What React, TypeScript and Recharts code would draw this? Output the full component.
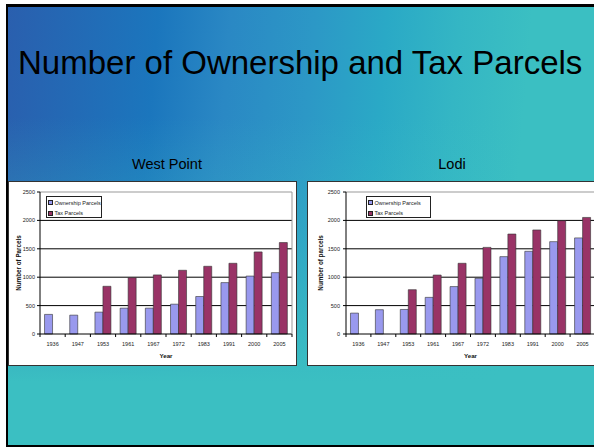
import React from 'react';
import { BarChart, Bar, XAxis, YAxis, CartesianGrid, ReferenceLine, Label } from 'recharts';

const years = ['1936', '1947', '1953', '1961', '1967', '1972', '1983', '1991', '2000', '2005'];
const westPointOwnership = [345, 332, 385, 455, 455, 525, 660, 905, 1020, 1080];
const westPointTax = [null, null, 840, 992, 1040, 1122, 1192, 1245, 1445, 1610];
const lodiOwnership = [368, 428, 432, 645, 835, 980, 1362, 1456, 1626, 1692];
const lodiTax = [null, null, 780, 1038, 1245, 1525, 1760, 1832, 1995, 2052];
const yTicks = [0, 500, 1000, 1500, 2000, 2500];
const gridValues = [500, 1000, 1500, 2000];
const seriesNames = ['Ownership Parcels', 'Tax Parcels'];

const OWN = '#9999ee';
const TAX = '#993366';
const FONT = '"Liberation Sans", Arial, sans-serif';

const buildRows = (own: (number | null)[], tax: (number | null)[]) =>
  years.map((year, i) => ({ year, ownership: own[i], tax: tax[i] }));

const westPointRows = buildRows(westPointOwnership, westPointTax);
const lodiRows = buildRows(lodiOwnership, lodiTax);

const makeTick = (bw: number, plotH: number, count: number) => (props: any) => {
  const { x, y, payload, index } = props;
  const last = index === count - 1;
  return (
    <g>
      <line x1={x - bw / 2} y1={y} x2={x - bw / 2} y2={y + 3} stroke="#000" strokeWidth={1} />
      {last && <line x1={x + bw / 2} y1={y} x2={x + bw / 2} y2={y + 3} stroke="#000" strokeWidth={1} />}
      {last && <line x1={x + bw / 2} y1={y} x2={x + bw / 2} y2={y - plotH} stroke="#999" strokeWidth={1} />}
      <text x={x} y={y + 11.5} textAnchor="middle" fontSize={5.5} fill="#222" fontFamily={FONT}>
        {payload.value}
      </text>
    </g>
  );
};

type PanelProps = {
  rows: any[];
  left: number;
  width: number;
  yAxisWidth: number;
  tickMargin: number;
  yTitle: string;
  yTitleX: number;
  legendLeft: number;
  legendWidth: number;
};

const Panel = ({ rows, left, width, yAxisWidth, tickMargin, yTitle, yTitleX, legendLeft, legendWidth }: PanelProps) => {
  const chartW = width - 2;
  const chartH = 183;
  const marginTop = 10;
  const marginRight = 4;
  const xAxisH = 31;
  const plotW = chartW - yAxisWidth - marginRight;
  const plotH = chartH - marginTop - xAxisH;
  const bw = plotW / years.length;
  return (
    <div
      style={{
        position: 'absolute',
        left,
        top: 181,
        width,
        height: 185,
        boxSizing: 'border-box',
        border: '1px solid #333',
        background: '#fff',
      }}
    >
      <BarChart
        width={chartW}
        height={chartH}
        data={rows}
        margin={{ top: marginTop, right: marginRight, bottom: 0, left: 0 }}
        barCategoryGap="18%"
        barGap={0}
      >
        <CartesianGrid vertical={false} horizontalValues={gridValues} stroke="#000" strokeWidth={1} />
        <ReferenceLine y={2500} stroke="#999" strokeWidth={1} />
        <XAxis
          dataKey="year"
          height={xAxisH}
          interval={0}
          tickLine={false}
          tickSize={0}
          tickMargin={0}
          axisLine={{ stroke: '#000', strokeWidth: 1 }}
          tick={makeTick(bw, plotH, years.length)}
        >
          <Label
            content={(p: any) => {
              const vb = p.viewBox || {};
              return (
                <text
                  x={vb.x + vb.width / 2}
                  y={vb.y + 24}
                  textAnchor="middle"
                  fontSize={6.2}
                  fontWeight="bold"
                  fill="#111"
                  fontFamily={FONT}
                >
                  Year
                </text>
              );
            }}
          />
        </XAxis>
        <YAxis
          width={yAxisWidth}
          domain={[0, 2500]}
          ticks={yTicks}
          interval={0}
          tickSize={3}
          tickMargin={tickMargin}
          axisLine={{ stroke: '#000', strokeWidth: 1 }}
          tickLine={{ stroke: '#000', strokeWidth: 1 }}
          tick={{ fontSize: 5.5, fill: '#222', fontFamily: FONT }}
        >
          <Label
            content={(p: any) => {
              const vb = p.viewBox || {};
              const cx = vb.x + yTitleX;
              const cy = vb.y + vb.height / 2;
              return (
                <text
                  x={cx}
                  y={cy}
                  transform={`rotate(-90 ${cx} ${cy})`}
                  textAnchor="middle"
                  dominantBaseline="central"
                  fontSize={6.3}
                  fontWeight="bold"
                  fill="#111"
                  fontFamily={FONT}
                >
                  {yTitle}
                </text>
              );
            }}
          />
        </YAxis>
        <Bar dataKey="ownership" name={seriesNames[0]} fill={OWN} stroke="#333" strokeWidth={0.6} isAnimationActive={false} />
        <Bar dataKey="tax" name={seriesNames[1]} fill={TAX} stroke="#333" strokeWidth={0.6} isAnimationActive={false} />
      </BarChart>
      <div
        style={{
          position: 'absolute',
          left: legendLeft - left - 1,
          top: 196 - 182,
          width: legendWidth,
          height: 22,
          boxSizing: 'border-box',
          border: '1px solid #222',
          background: '#fff',
          fontFamily: FONT,
          fontSize: 5.5,
          color: '#222',
        }}
      >
        {seriesNames.map((name, i) => (
          <div
            key={name}
            style={{
              position: 'absolute',
              left: 1,
              top: 2 + i * 10.5,
              height: 7,
              display: 'flex',
              alignItems: 'center',
              whiteSpace: 'nowrap',
            }}
          >
            <span
              style={{
                display: 'inline-block',
                width: 3,
                height: 3,
                border: '0.7px solid #222',
                background: i === 0 ? OWN : TAX,
                marginRight: 1.5,
              }}
            />
            <span>{name}</span>
          </div>
        ))}
      </div>
    </div>
  );
};

export default function App() {
  return (
    <div
      style={{
        position: 'absolute',
        left: 0,
        top: 0,
        width: 594,
        height: 447,
        overflow: 'hidden',
        background: '#fff',
        fontFamily: FONT,
      }}
    >
      <div
        style={{
          position: 'absolute',
          left: 6,
          top: 4,
          width: 620,
          height: 443,
          boxSizing: 'border-box',
          borderLeft: '2px solid #000',
          borderTop: '3px solid #000',
          borderBottom: '2px solid #000',
          background: [
            'linear-gradient(to bottom, rgba(59,191,194,0) 0px, rgba(59,191,194,0) 110px, rgba(59,191,194,0.3) 220px, rgba(59,191,194,0.75) 320px, rgba(59,191,194,1) 375px)',
            'linear-gradient(95deg, #2a5fae 0%, #1b76bd 23%, #2a88c4 34%, #2c98c6 47%, #2aa9c6 58%, #34b6c4 69%, #3bbfc2 80%, #3bbfc2 100%)',
          ].join(', '),
        }}
      />
      <div
        style={{
          position: 'absolute',
          left: 18,
          top: 46,
          fontSize: 33,
          lineHeight: '33px',
          color: '#000',
          whiteSpace: 'nowrap',
        }}
      >
        Number of Ownership and Tax Parcels
      </div>
      <div
        style={{
          position: 'absolute',
          left: 67,
          width: 200,
          top: 157,
          textAlign: 'center',
          fontSize: 14.5,
          lineHeight: '15px',
          color: '#000',
        }}
      >
        West Point
      </div>
      <div
        style={{
          position: 'absolute',
          left: 352,
          width: 200,
          top: 157,
          textAlign: 'center',
          fontSize: 14.5,
          lineHeight: '15px',
          color: '#000',
        }}
      >
        Lodi
      </div>
      <Panel
        rows={westPointRows}
        left={8}
        width={289}
        yAxisWidth={31}
        tickMargin={2}
        yTitle="Number of Parcels"
        yTitleX={9}
        legendLeft={46}
        legendWidth={56}
      />
      <Panel
        rows={lodiRows}
        left={307}
        width={293}
        yAxisWidth={38}
        tickMargin={3}
        yTitle="Number of parcels"
        yTitleX={12}
        legendLeft={366}
        legendWidth={65}
      />
    </div>
  );
}
